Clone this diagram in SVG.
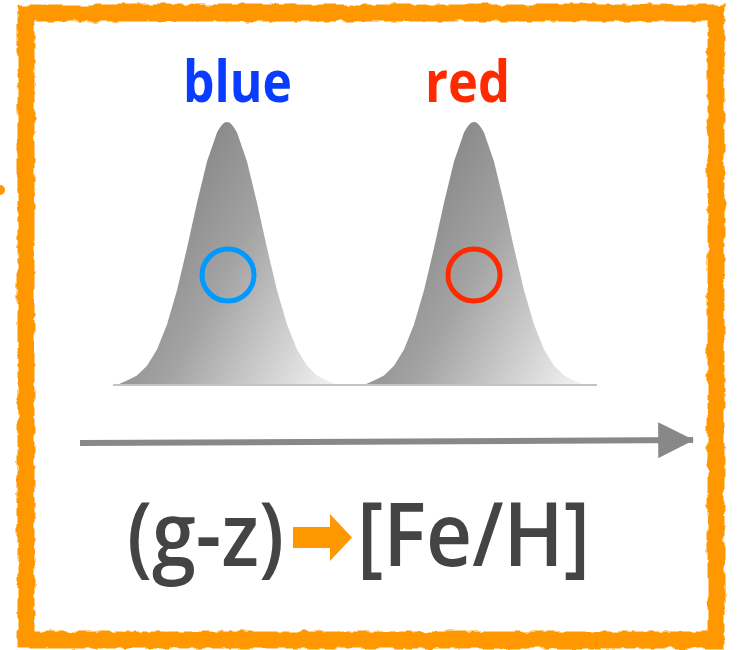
<svg xmlns="http://www.w3.org/2000/svg" width="739" height="650" viewBox="0 0 739 650">
  <style>
    .frame { fill: none; stroke: #FF9800; stroke-width: 17; }
    .label { font-family: "Open Sans", "Liberation Sans", sans-serif; font-weight: 700; }
    .formula { font-family: "Open Sans", "Liberation Sans", sans-serif; font-weight: 600; fill: #444444; }
    .ring { fill: none; stroke-width: 5; }
  </style>
  <defs>
    <linearGradient id="peakGrad" x1="0" y1="0.35" x2="1" y2="1">
      <stop offset="0" stop-color="#7c7c7c"/>
      <stop offset="0.45" stop-color="#a3a3a3"/>
      <stop offset="1" stop-color="#f4f4f4"/>
    </linearGradient>
    <path id="gauss" d="M-110,385 L-100,380.6 L-90,375.4 L-80,365.7 L-70,349.4 L-60,324.5 L-50,290.2 L-40,248.1 L-30,202.8 L-20,161.6 L-10,132.5 C-6,125 -3,122 0,122 C3,122 6,125 10,132.5 L20,161.6 L30,202.8 L40,248.1 L50,290.2 L60,324.5 L70,349.4 L80,365.7 L90,375.4 L100,380.6 L110,385 Z" fill="url(#peakGrad)"/>
    <filter id="rough" x="-5%" y="-5%" width="110%" height="110%">
      <feTurbulence type="fractalNoise" baseFrequency="0.09" numOctaves="2" seed="3" result="n"/>
      <feDisplacementMap in="SourceGraphic" in2="n" scale="6" xChannelSelector="R" yChannelSelector="G"/>
    </filter>
    <marker id="grayHead" markerWidth="6" markerHeight="6" refX="5.8" refY="3" orient="auto" markerUnits="strokeWidth">
      <path d="M0,0 L6,3 L0,6 Z" fill="#888888"/>
    </marker>
  </defs>

  <g id="frame">
    <rect class="frame" x="26" y="13" width="690" height="627" filter="url(#rough)"/>
    <circle cx="0" cy="190" r="5" fill="#FF9800"/>
  </g>

  <g id="peak-blue">
    <use href="#gauss" transform="translate(227,0)"/>
    <circle class="ring" cx="228" cy="275" r="26" stroke="#0099FF"/>
    <text class="label" x="183" y="102" font-size="58" fill="#0A3CFF" textLength="109" lengthAdjust="spacingAndGlyphs">blue</text>
  </g>

  <g id="peak-red">
    <use href="#gauss" transform="translate(474,0)"/>
    <circle class="ring" cx="474" cy="275" r="26" stroke="#FF2A00"/>
    <text class="label" x="425" y="102" font-size="58" fill="#FF2A00" textLength="85" lengthAdjust="spacingAndGlyphs">red</text>
  </g>

  <g id="baseline">
    <line x1="113" y1="385" x2="597" y2="385" stroke="#c4c4c4" stroke-width="2"/>
  </g>

  <g id="connectors">
    <line x1="80" y1="443" x2="693" y2="440" stroke="#888888" stroke-width="6" marker-end="url(#grayHead)"/>
  </g>

  <g id="formula">
    <text class="formula" x="127" y="566" font-size="88" textLength="157" lengthAdjust="spacingAndGlyphs">(g-z)</text>
    <path d="M293,527 L330,527 L330,514 L352,537.5 L330,561 L330,548 L293,548 Z" fill="#FF9800"/>
    <text class="formula" x="357" y="566" font-size="88" textLength="233" lengthAdjust="spacingAndGlyphs">[Fe/H]</text>
  </g>
</svg>
